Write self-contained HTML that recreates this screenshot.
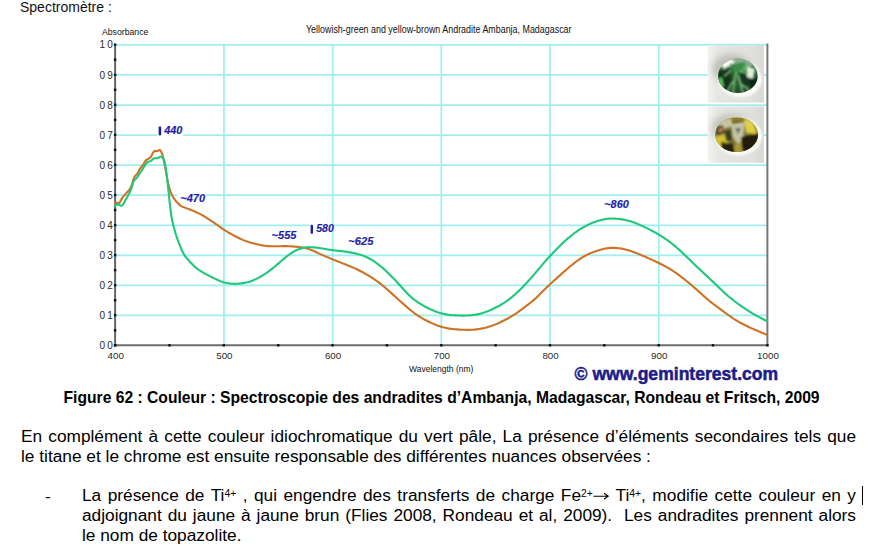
<!DOCTYPE html>
<html><head><meta charset="utf-8">
<style>
html,body{margin:0;padding:0;background:#fff;}
body{width:878px;height:556px;overflow:hidden;position:relative;font-family:"Liberation Sans",sans-serif;color:#000;}
.t{position:absolute;white-space:nowrap;}
#spec{left:20px;top:-0.7px;font-size:14px;color:#111;}
#cap{left:63.5px;top:388.6px;font-size:15.66px;font-weight:bold;}
.p{position:absolute;left:21px;font-size:17.3px;white-space:nowrap;}
svg{position:absolute;left:0;top:0;}
sup{font-size:0.6em;vertical-align:0.38em;line-height:0;}
.arr{position:static;display:inline-block;vertical-align:0.05em;margin-left:0.5px;}
</style></head><body>
<div class="t" id="spec">Spectromètre :</div>
<svg width="878" height="556" viewBox="0 0 878 556">
<defs>
<linearGradient id="bgA" x1="0" y1="0" x2="1" y2="0"><stop offset="0" stop-color="#f4f4f2"/><stop offset="0.18" stop-color="#e6e6e2"/><stop offset="0.8" stop-color="#e0e0dc"/><stop offset="1" stop-color="#d8d8d4"/></linearGradient>
<radialGradient id="gG" cx="0.5" cy="0.55" r="0.55"><stop offset="0" stop-color="#2c6c34"/><stop offset="0.7" stop-color="#1e5028"/><stop offset="0.92" stop-color="#4a8c54"/><stop offset="1" stop-color="#8cb494"/></radialGradient>
<radialGradient id="gY" cx="0.5" cy="0.5" r="0.55"><stop offset="0" stop-color="#8c8650"/><stop offset="0.6" stop-color="#6c6424"/><stop offset="1" stop-color="#b8a430"/></radialGradient>
<filter id="bl" x="-50%" y="-50%" width="200%" height="200%"><feGaussianBlur stdDeviation="3"/></filter>
<clipPath id="cb1"><rect x="707.5" y="45.2" width="56.4" height="57.4"/></clipPath>
<clipPath id="cb2"><rect x="707.5" y="106.4" width="56.4" height="56.4"/></clipPath>
<clipPath id="cg1"><ellipse cx="737.9" cy="75.8" rx="19.8" ry="17.2"/></clipPath>
<clipPath id="cg2"><ellipse cx="736.6" cy="134.6" rx="21.5" ry="17.4"/></clipPath>
<filter id="bl1"><feGaussianBlur stdDeviation="0.8"/></filter>
</defs>
<text x="306" y="32.6" font-size="10.5" font-family="Liberation Sans" fill="#111" textLength="265.5" lengthAdjust="spacingAndGlyphs">Yellowish-green and yellow-brown Andradite Ambanja, Madagascar</text>
<text x="102" y="34.5" font-size="8.8" font-family="Liberation Sans" fill="#111" textLength="46.3" lengthAdjust="spacingAndGlyphs">Absorbance</text>
<g stroke="#a0eeee" stroke-width="1.75" fill="none"><line x1="115.1" y1="44.90" x2="767.4" y2="44.90"/><line x1="115.1" y1="74.96" x2="767.4" y2="74.96"/><line x1="115.1" y1="105.02" x2="767.4" y2="105.02"/><line x1="115.1" y1="135.08" x2="767.4" y2="135.08"/><line x1="115.1" y1="165.14" x2="767.4" y2="165.14"/><line x1="115.1" y1="195.20" x2="767.4" y2="195.20"/><line x1="115.1" y1="225.26" x2="767.4" y2="225.26"/><line x1="115.1" y1="255.32" x2="767.4" y2="255.32"/><line x1="115.1" y1="285.38" x2="767.4" y2="285.38"/><line x1="115.1" y1="315.44" x2="767.4" y2="315.44"/><line x1="223.98" y1="44.7" x2="223.98" y2="345.3"/><line x1="332.67" y1="44.7" x2="332.67" y2="345.3"/><line x1="441.35" y1="44.7" x2="441.35" y2="345.3"/><line x1="550.03" y1="44.7" x2="550.03" y2="345.3"/><line x1="658.72" y1="44.7" x2="658.72" y2="345.3"/></g>
<g fill="#fff">
<rect x="157" y="127" width="26" height="9"/>
<rect x="177" y="193" width="29" height="9"/>
<rect x="309" y="223.5" width="23.5" height="3"/>
</g>

<rect x="707.5" y="45.2" width="56.4" height="57.4" fill="url(#bgA)"/>
<rect x="707.5" y="106.4" width="56.4" height="56.4" fill="url(#bgA)"/>
<g clip-path="url(#cb1)">
<ellipse cx="731" cy="69" rx="19" ry="15" fill="#a4a49c" opacity="0.55" filter="url(#bl)"/>
<ellipse cx="740" cy="79" rx="22" ry="18.5" fill="#fafaf6" filter="url(#bl1)"/>
</g>
<g clip-path="url(#cg1)">
<rect x="716" y="57" width="44" height="38" fill="url(#gG)"/>
<g filter="url(#bl1)">
<ellipse cx="738" cy="62" rx="18" ry="6" fill="#8eae94"/>
<path d="M720 64 L731 58.5 L735 63 L724 69 Z" fill="#f8fbf4"/>
<path d="M729 64 L745 62 L748 71 L735 74 Z" fill="#3a8a46"/>
<path d="M718 71 L729 69 L732 82 L725 93 L717 84 Z" fill="#12301a"/>
<path d="M739 74 L747 72 L751 82 L744 91 Z" fill="#143420"/>
<path d="M747 66 L755 69 L753 79 L747 77 Z" fill="#dff0d8"/>
<path d="M750 79 L758 77 L757 90 L750 89 Z" fill="#0c2212"/>
<path d="M718 79 L722 77 L724 87 L719 87 Z" fill="#58bc58"/>
<path d="M743 66 L748 64 L747 70 L743 71 Z" fill="#5cb45c"/>
</g>
<g stroke="#90cc90" stroke-width="1.4" fill="none" filter="url(#bl1)">
<path d="M736 72 Q734 84 733 93"/>
<path d="M738 75 Q741 85 743 93"/>
<path d="M733 81 Q729 88 726 93"/>
<path d="M740 84 Q745 86 749 90"/>
<path d="M731 70 Q728 74 724 76"/>
<path d="M740 70 Q744 73 747 74"/>
</g>
</g>
<g clip-path="url(#cb2)">
<ellipse cx="731" cy="129" rx="20" ry="15" fill="#a4a49c" opacity="0.5" filter="url(#bl)"/>
<ellipse cx="738.5" cy="136.5" rx="23.5" ry="19" fill="#fafaf6" filter="url(#bl1)"/>
</g>
<g clip-path="url(#cg2)">
<rect x="714" y="116" width="46" height="38" fill="url(#gY)"/>
<g filter="url(#bl1)">
<path d="M718 121 L731 118 L733 126 L721 130 Z" fill="#c8c4a0"/>
<path d="M716 127 L723 125 L724 134 L716 136 Z" fill="#50503c"/>
<path d="M719 129 L722 128 L722 131 L719 132 Z" fill="#d88a58"/>
<path d="M731 124 L745 122 L743 138 L738 145 L733 137 Z" fill="#c4c4a4"/>
<path d="M735 128 L741 128 L738 134 Z" fill="#606868"/>
<path d="M744 118 L753 122 L757 134 L746 133 Z" fill="#e0d048"/>
<path d="M715 137 L724 134 L730 146 L719 151 Z" fill="#d4c030"/>
<path d="M721 142 L733 144 L735 153 L722 153 Z" fill="#24200c"/>
<path d="M741 137 L759 133 L758 150 L743 153 Z" fill="#201e0c"/>
<path d="M734 145 L741 142 L742 153 L735 153 Z" fill="#a89838"/>
<path d="M725 131 L731 130 L732 140 L726 141 Z" fill="#3c3a20"/>
</g>
</g>

<line x1="115.1" y1="43.7" x2="115.1" y2="346.3" stroke="#666" stroke-width="2"/>
<line x1="115.1" y1="345.3" x2="768.4" y2="345.3" stroke="#6c6c6c" stroke-width="2"/>
<line x1="767.4" y1="43.5" x2="767.4" y2="345.3" stroke="#777" stroke-width="2"/>
<g fill="#111"><rect x="113.9" y="344.1" width="2.4" height="2.4"/><rect x="113.9" y="329.1" width="2.4" height="2.4"/><rect x="113.9" y="314.0" width="2.4" height="2.4"/><rect x="113.9" y="299.0" width="2.4" height="2.4"/><rect x="113.9" y="284.0" width="2.4" height="2.4"/><rect x="113.9" y="268.9" width="2.4" height="2.4"/><rect x="113.9" y="253.9" width="2.4" height="2.4"/><rect x="113.9" y="238.9" width="2.4" height="2.4"/><rect x="113.9" y="223.9" width="2.4" height="2.4"/><rect x="113.9" y="208.8" width="2.4" height="2.4"/><rect x="113.9" y="193.8" width="2.4" height="2.4"/><rect x="113.9" y="178.8" width="2.4" height="2.4"/><rect x="113.9" y="163.7" width="2.4" height="2.4"/><rect x="113.9" y="148.7" width="2.4" height="2.4"/><rect x="113.9" y="133.7" width="2.4" height="2.4"/><rect x="113.9" y="118.7" width="2.4" height="2.4"/><rect x="113.9" y="103.6" width="2.4" height="2.4"/><rect x="113.9" y="88.6" width="2.4" height="2.4"/><rect x="113.9" y="73.6" width="2.4" height="2.4"/><rect x="113.9" y="58.5" width="2.4" height="2.4"/><rect x="113.9" y="43.5" width="2.4" height="2.4"/><rect x="113.9" y="344.1" width="2.4" height="2.4"/><rect x="168.3" y="344.1" width="2.4" height="2.4"/><rect x="222.6" y="344.1" width="2.4" height="2.4"/><rect x="277.0" y="344.1" width="2.4" height="2.4"/><rect x="331.3" y="344.1" width="2.4" height="2.4"/><rect x="385.7" y="344.1" width="2.4" height="2.4"/><rect x="440.1" y="344.1" width="2.4" height="2.4"/><rect x="494.4" y="344.1" width="2.4" height="2.4"/><rect x="548.8" y="344.1" width="2.4" height="2.4"/><rect x="603.1" y="344.1" width="2.4" height="2.4"/><rect x="657.5" y="344.1" width="2.4" height="2.4"/><rect x="711.8" y="344.1" width="2.4" height="2.4"/><rect x="766.2" y="344.1" width="2.4" height="2.4"/></g>
<g font-size="10" font-family="Liberation Sans" fill="#2a2a2a"><text x="112.7" y="349.0" text-anchor="end">0<tspan fill="#ececec" dx="-0.3">.</tspan><tspan dx="-0.3">0</tspan></text><text x="112.7" y="318.9" text-anchor="end">0<tspan fill="#ececec" dx="-0.3">.</tspan><tspan dx="-0.3">1</tspan></text><text x="112.7" y="288.9" text-anchor="end">0<tspan fill="#ececec" dx="-0.3">.</tspan><tspan dx="-0.3">2</tspan></text><text x="112.7" y="258.8" text-anchor="end">0<tspan fill="#ececec" dx="-0.3">.</tspan><tspan dx="-0.3">3</tspan></text><text x="112.7" y="228.8" text-anchor="end">0<tspan fill="#ececec" dx="-0.3">.</tspan><tspan dx="-0.3">4</tspan></text><text x="112.7" y="198.7" text-anchor="end">0<tspan fill="#ececec" dx="-0.3">.</tspan><tspan dx="-0.3">5</tspan></text><text x="112.7" y="168.6" text-anchor="end">0<tspan fill="#ececec" dx="-0.3">.</tspan><tspan dx="-0.3">6</tspan></text><text x="112.7" y="138.6" text-anchor="end">0<tspan fill="#ececec" dx="-0.3">.</tspan><tspan dx="-0.3">7</tspan></text><text x="112.7" y="108.5" text-anchor="end">0<tspan fill="#ececec" dx="-0.3">.</tspan><tspan dx="-0.3">8</tspan></text><text x="112.7" y="78.5" text-anchor="end">0<tspan fill="#ececec" dx="-0.3">.</tspan><tspan dx="-0.3">9</tspan></text><text x="112.7" y="48.4" text-anchor="end">1<tspan fill="#ececec" dx="-0.3">.</tspan><tspan dx="-0.3">0</tspan></text></g><g font-size="9.8" font-family="Liberation Sans" fill="#2a2a2a"><text x="115.7" y="359" text-anchor="middle">400</text><text x="224.4" y="359" text-anchor="middle">500</text><text x="333.1" y="359" text-anchor="middle">600</text><text x="441.9" y="359" text-anchor="middle">700</text><text x="550.6" y="359" text-anchor="middle">800</text><text x="659.3" y="359" text-anchor="middle">900</text><text x="768.0" y="359" text-anchor="middle">1000</text></g>
<text x="409" y="372.3" font-size="8.5" font-family="Liberation Sans" fill="#111" textLength="64.4" lengthAdjust="spacingAndGlyphs">Wavelength (nm)</text>
<path d="M114.3 204.1 L115.3 203.2 L116.3 202.9 L117.3 202.9 L118.3 203.1 L119.3 202.9 L120.3 201.6 L121.3 199.6 L122.3 197.9 L123.3 196.6 L124.3 195.3 L125.3 194.2 L126.3 193.1 L127.3 192.1 L128.3 191.1 L129.3 189.9 L130.3 188.3 L131.3 186.2 L132.3 183.5 L133.3 179.6 L134.3 177.1 L135.3 175.7 L136.3 174.8 L137.3 173.8 L138.3 172.0 L139.3 169.8 L140.3 168.2 L141.3 167.0 L142.3 165.8 L143.3 164.4 L144.3 162.7 L145.3 161.0 L146.3 160.0 L147.3 159.4 L148.3 158.9 L149.3 158.2 L150.3 157.5 L151.3 156.2 L152.3 154.1 L153.3 152.2 L154.3 151.2 L155.3 150.8 L156.3 151.1 L157.3 151.2 L158.3 150.6 L159.3 150.0 L160.3 150.3 L161.3 151.9 L162.3 154.3 L163.3 158.0 L164.3 162.7 L165.3 167.9 L166.3 173.6 L167.3 179.3 L168.3 184.0 L169.3 187.7 L170.3 191.0 L171.3 193.7 L172.3 195.8 L173.3 197.4 L174.3 198.9 L175.3 200.3 L176.3 201.6 L177.3 202.6 L178.3 203.6 L179.3 204.6 L180.3 205.5 L181.3 206.1 L182.3 206.6 L183.3 207.0 L184.3 207.4 L185.3 207.8 L186.3 208.2 L187.3 208.5 L188.3 208.9 L189.3 209.3 L190.3 209.7 L191.3 210.1 L192.3 210.5 L193.3 210.9 L194.3 211.3 L195.3 211.7 L196.3 212.2 L197.3 212.6 L198.3 213.1 L199.3 213.6 L200.3 214.1 L201.3 214.6 L202.3 215.2 L203.3 215.7 L204.3 216.3 L205.3 217.0 L206.3 217.6 L207.3 218.3 L208.3 218.9 L209.3 219.6 L210.3 220.2 L211.3 220.9 L212.3 221.6 L213.3 222.2 L214.3 222.9 L215.3 223.6 L216.3 224.3 L217.3 225.0 L218.3 225.7 L219.3 226.5 L220.3 227.2 L221.3 227.9 L222.3 228.6 L223.3 229.3 L224.3 229.9 L225.3 230.6 L226.3 231.2 L227.3 231.8 L228.3 232.4 L229.3 233.0 L230.3 233.5 L231.3 234.1 L232.3 234.6 L233.3 235.2 L234.3 235.7 L235.3 236.3 L236.3 236.8 L237.3 237.3 L238.3 237.8 L239.3 238.3 L240.3 238.8 L241.3 239.2 L242.3 239.6 L243.3 240.1 L244.3 240.5 L245.3 240.8 L246.3 241.2 L247.3 241.5 L248.3 241.9 L249.3 242.2 L250.3 242.5 L251.3 242.8 L252.3 243.0 L253.3 243.3 L254.3 243.6 L255.3 243.8 L256.3 244.1 L257.3 244.3 L258.3 244.6 L259.3 244.8 L260.3 245.0 L261.3 245.2 L262.3 245.4 L263.3 245.6 L264.3 245.7 L265.3 245.8 L266.3 246.0 L267.3 246.1 L268.3 246.1 L269.3 246.2 L270.3 246.3 L271.3 246.3 L272.3 246.3 L273.3 246.3 L274.3 246.3 L275.3 246.3 L276.3 246.3 L277.3 246.3 L278.3 246.3 L279.3 246.2 L280.3 246.2 L281.3 246.2 L282.3 246.1 L283.3 246.1 L284.3 246.1 L285.3 246.1 L286.3 246.1 L287.3 246.1 L288.3 246.2 L289.3 246.2 L290.3 246.3 L291.3 246.4 L292.3 246.4 L293.3 246.5 L294.3 246.6 L295.3 246.7 L296.3 246.8 L297.3 246.9 L298.3 247.0 L299.3 247.1 L300.3 247.2 L301.3 247.3 L302.3 247.5 L303.3 247.6 L304.3 247.8 L305.3 248.1 L306.3 248.3 L307.3 248.6 L308.3 248.9 L309.3 249.3 L310.3 249.6 L311.3 250.0 L312.3 250.4 L313.3 250.8 L314.3 251.3 L315.3 251.7 L316.3 252.2 L317.3 252.7 L318.3 253.1 L319.3 253.6 L320.3 254.1 L321.3 254.5 L322.3 255.0 L323.3 255.4 L324.3 255.9 L325.3 256.3 L326.3 256.7 L327.3 257.1 L328.3 257.5 L329.3 257.9 L330.3 258.4 L331.3 258.8 L332.3 259.2 L333.3 259.6 L334.3 260.0 L335.3 260.4 L336.3 260.8 L337.3 261.2 L338.3 261.6 L339.3 262.0 L340.3 262.4 L341.3 262.8 L342.3 263.2 L343.3 263.6 L344.3 264.0 L345.3 264.4 L346.3 264.8 L347.3 265.2 L348.3 265.6 L349.3 266.0 L350.3 266.4 L351.3 266.8 L352.3 267.2 L353.3 267.6 L354.3 268.1 L355.3 268.5 L356.3 269.0 L357.3 269.5 L358.3 270.0 L359.3 270.5 L360.3 271.0 L361.3 271.5 L362.3 272.0 L363.3 272.6 L364.3 273.2 L365.3 273.7 L366.3 274.3 L367.3 274.9 L368.3 275.5 L369.3 276.1 L370.3 276.7 L371.3 277.3 L372.3 278.0 L373.3 278.6 L374.3 279.3 L375.3 280.0 L376.3 280.7 L377.3 281.4 L378.3 282.1 L379.3 282.9 L380.3 283.6 L381.3 284.4 L382.3 285.2 L383.3 286.1 L384.3 286.9 L385.3 287.8 L386.3 288.6 L387.3 289.5 L388.3 290.4 L389.3 291.3 L390.3 292.2 L391.3 293.1 L392.3 294.0 L393.3 294.9 L394.3 295.8 L395.3 296.7 L396.3 297.6 L397.3 298.5 L398.3 299.5 L399.3 300.3 L400.3 301.2 L401.3 302.1 L402.3 303.0 L403.3 303.9 L404.3 304.8 L405.3 305.6 L406.3 306.5 L407.3 307.4 L408.3 308.2 L409.3 309.1 L410.3 309.9 L411.3 310.7 L412.3 311.5 L413.3 312.3 L414.3 313.1 L415.3 313.8 L416.3 314.5 L417.3 315.2 L418.3 315.9 L419.3 316.5 L420.3 317.1 L421.3 317.7 L422.3 318.3 L423.3 318.9 L424.3 319.5 L425.3 320.0 L426.3 320.5 L427.3 321.0 L428.3 321.5 L429.3 322.0 L430.3 322.5 L431.3 322.9 L432.3 323.4 L433.3 323.8 L434.3 324.2 L435.3 324.6 L436.3 325.0 L437.3 325.4 L438.3 325.7 L439.3 326.1 L440.3 326.4 L441.3 326.7 L442.3 327.0 L443.3 327.3 L444.3 327.5 L445.3 327.8 L446.3 328.0 L447.3 328.2 L448.3 328.4 L449.3 328.6 L450.3 328.7 L451.3 328.8 L452.3 329.0 L453.3 329.1 L454.3 329.2 L455.3 329.3 L456.3 329.4 L457.3 329.4 L458.3 329.5 L459.3 329.6 L460.3 329.6 L461.3 329.7 L462.3 329.7 L463.3 329.8 L464.3 329.8 L465.3 329.8 L466.3 329.9 L467.3 329.9 L468.3 329.9 L469.3 329.9 L470.3 329.9 L471.3 329.8 L472.3 329.8 L473.3 329.7 L474.3 329.6 L475.3 329.5 L476.3 329.4 L477.3 329.3 L478.3 329.1 L479.3 329.0 L480.3 328.8 L481.3 328.6 L482.3 328.4 L483.3 328.2 L484.3 328.0 L485.3 327.7 L486.3 327.5 L487.3 327.2 L488.3 326.9 L489.3 326.6 L490.3 326.3 L491.3 326.0 L492.3 325.6 L493.3 325.3 L494.3 324.9 L495.3 324.5 L496.3 324.1 L497.3 323.7 L498.3 323.2 L499.3 322.8 L500.3 322.3 L501.3 321.8 L502.3 321.3 L503.3 320.8 L504.3 320.3 L505.3 319.8 L506.3 319.2 L507.3 318.7 L508.3 318.2 L509.3 317.6 L510.3 317.0 L511.3 316.4 L512.3 315.8 L513.3 315.2 L514.3 314.6 L515.3 313.9 L516.3 313.3 L517.3 312.6 L518.3 311.9 L519.3 311.1 L520.3 310.4 L521.3 309.7 L522.3 308.9 L523.3 308.2 L524.3 307.4 L525.3 306.6 L526.3 305.9 L527.3 305.1 L528.3 304.4 L529.3 303.6 L530.3 302.8 L531.3 302.0 L532.3 301.2 L533.3 300.4 L534.3 299.5 L535.3 298.6 L536.3 297.7 L537.3 296.7 L538.3 295.7 L539.3 294.8 L540.3 293.8 L541.3 292.8 L542.3 291.8 L543.3 290.8 L544.3 289.8 L545.3 288.8 L546.3 287.8 L547.3 286.9 L548.3 285.9 L549.3 285.0 L550.3 284.0 L551.3 283.1 L552.3 282.2 L553.3 281.3 L554.3 280.4 L555.3 279.5 L556.3 278.6 L557.3 277.7 L558.3 276.8 L559.3 275.9 L560.3 275.0 L561.3 274.1 L562.3 273.2 L563.3 272.3 L564.3 271.4 L565.3 270.6 L566.3 269.7 L567.3 268.8 L568.3 268.0 L569.3 267.1 L570.3 266.3 L571.3 265.5 L572.3 264.7 L573.3 263.9 L574.3 263.1 L575.3 262.3 L576.3 261.5 L577.3 260.8 L578.3 260.1 L579.3 259.4 L580.3 258.7 L581.3 258.0 L582.3 257.4 L583.3 256.8 L584.3 256.2 L585.3 255.7 L586.3 255.1 L587.3 254.6 L588.3 254.2 L589.3 253.7 L590.3 253.3 L591.3 252.9 L592.3 252.5 L593.3 252.1 L594.3 251.7 L595.3 251.4 L596.3 251.0 L597.3 250.7 L598.3 250.4 L599.3 250.1 L600.3 249.8 L601.3 249.5 L602.3 249.2 L603.3 249.0 L604.3 248.7 L605.3 248.5 L606.3 248.4 L607.3 248.2 L608.3 248.1 L609.3 248.0 L610.3 247.9 L611.3 247.9 L612.3 247.9 L613.3 247.9 L614.3 247.9 L615.3 247.9 L616.3 248.0 L617.3 248.1 L618.3 248.2 L619.3 248.3 L620.3 248.4 L621.3 248.6 L622.3 248.8 L623.3 249.0 L624.3 249.2 L625.3 249.4 L626.3 249.7 L627.3 250.0 L628.3 250.3 L629.3 250.6 L630.3 250.9 L631.3 251.2 L632.3 251.6 L633.3 251.9 L634.3 252.3 L635.3 252.7 L636.3 253.0 L637.3 253.4 L638.3 253.9 L639.3 254.3 L640.3 254.7 L641.3 255.1 L642.3 255.5 L643.3 256.0 L644.3 256.4 L645.3 256.8 L646.3 257.3 L647.3 257.7 L648.3 258.1 L649.3 258.6 L650.3 259.0 L651.3 259.5 L652.3 259.9 L653.3 260.4 L654.3 260.8 L655.3 261.3 L656.3 261.7 L657.3 262.2 L658.3 262.7 L659.3 263.2 L660.3 263.7 L661.3 264.2 L662.3 264.7 L663.3 265.2 L664.3 265.8 L665.3 266.3 L666.3 266.9 L667.3 267.4 L668.3 268.0 L669.3 268.6 L670.3 269.2 L671.3 269.8 L672.3 270.5 L673.3 271.1 L674.3 271.8 L675.3 272.5 L676.3 273.2 L677.3 273.9 L678.3 274.6 L679.3 275.4 L680.3 276.1 L681.3 276.9 L682.3 277.6 L683.3 278.4 L684.3 279.2 L685.3 280.0 L686.3 280.8 L687.3 281.6 L688.3 282.4 L689.3 283.3 L690.3 284.1 L691.3 285.0 L692.3 285.8 L693.3 286.7 L694.3 287.6 L695.3 288.4 L696.3 289.3 L697.3 290.2 L698.3 291.1 L699.3 292.0 L700.3 292.9 L701.3 293.8 L702.3 294.7 L703.3 295.6 L704.3 296.5 L705.3 297.4 L706.3 298.3 L707.3 299.1 L708.3 300.0 L709.3 300.8 L710.3 301.6 L711.3 302.4 L712.3 303.2 L713.3 303.9 L714.3 304.7 L715.3 305.4 L716.3 306.2 L717.3 306.9 L718.3 307.7 L719.3 308.4 L720.3 309.1 L721.3 309.9 L722.3 310.6 L723.3 311.3 L724.3 312.1 L725.3 312.8 L726.3 313.5 L727.3 314.3 L728.3 315.0 L729.3 315.7 L730.3 316.4 L731.3 317.1 L732.3 317.8 L733.3 318.5 L734.3 319.2 L735.3 319.8 L736.3 320.4 L737.3 321.0 L738.3 321.6 L739.3 322.2 L740.3 322.7 L741.3 323.2 L742.3 323.8 L743.3 324.3 L744.3 324.8 L745.3 325.3 L746.3 325.8 L747.3 326.3 L748.3 326.7 L749.3 327.2 L750.3 327.7 L751.3 328.1 L752.3 328.6 L753.3 329.0 L754.3 329.5 L755.3 329.9 L756.3 330.3 L757.3 330.8 L758.3 331.2 L759.3 331.6 L760.3 332.0 L761.3 332.5 L762.3 332.9 L763.3 333.3 L764.3 333.7 L765.3 334.1 L766.3 334.5 L767.3 335.0 L767.4 335.0" stroke="#cf7226" stroke-width="2.1" fill="none" stroke-linejoin="round"/>
<path d="M114.3 206.5 L115.3 205.6 L116.3 204.9 L117.3 204.3 L118.3 204.5 L119.3 205.0 L120.3 205.4 L121.3 205.8 L122.3 205.4 L123.3 204.0 L124.3 202.2 L125.3 200.4 L126.3 198.7 L127.3 196.9 L128.3 195.0 L129.3 193.0 L130.3 191.0 L131.3 188.6 L132.3 185.4 L133.3 181.9 L134.3 180.0 L135.3 179.1 L136.3 178.2 L137.3 177.1 L138.3 175.6 L139.3 174.0 L140.3 172.4 L141.3 170.9 L142.3 169.4 L143.3 167.9 L144.3 166.4 L145.3 164.9 L146.3 163.4 L147.3 162.3 L148.3 161.8 L149.3 161.5 L150.3 161.1 L151.3 160.6 L152.3 159.7 L153.3 158.8 L154.3 158.3 L155.3 158.2 L156.3 158.2 L157.3 158.2 L158.3 157.8 L159.3 157.3 L160.3 156.7 L161.3 156.7 L162.3 157.4 L163.3 158.7 L164.3 161.1 L165.3 165.6 L166.3 171.8 L167.3 179.9 L168.3 189.5 L169.3 199.2 L170.3 208.2 L171.3 215.8 L172.3 221.1 L173.3 225.2 L174.3 229.0 L175.3 232.6 L176.3 235.8 L177.3 238.6 L178.3 241.3 L179.3 244.0 L180.3 246.6 L181.3 249.0 L182.3 251.2 L183.3 253.1 L184.3 254.8 L185.3 256.3 L186.3 257.7 L187.3 258.9 L188.3 260.0 L189.3 261.1 L190.3 262.2 L191.3 263.2 L192.3 264.2 L193.3 265.2 L194.3 266.2 L195.3 267.1 L196.3 267.9 L197.3 268.7 L198.3 269.5 L199.3 270.2 L200.3 270.9 L201.3 271.5 L202.3 272.1 L203.3 272.7 L204.3 273.3 L205.3 273.9 L206.3 274.4 L207.3 274.9 L208.3 275.4 L209.3 275.9 L210.3 276.4 L211.3 276.9 L212.3 277.4 L213.3 277.9 L214.3 278.4 L215.3 278.9 L216.3 279.3 L217.3 279.8 L218.3 280.3 L219.3 280.7 L220.3 281.1 L221.3 281.5 L222.3 281.8 L223.3 282.2 L224.3 282.5 L225.3 282.7 L226.3 283.0 L227.3 283.2 L228.3 283.3 L229.3 283.5 L230.3 283.6 L231.3 283.7 L232.3 283.8 L233.3 283.8 L234.3 283.9 L235.3 283.9 L236.3 283.8 L237.3 283.8 L238.3 283.7 L239.3 283.6 L240.3 283.5 L241.3 283.4 L242.3 283.3 L243.3 283.1 L244.3 282.9 L245.3 282.7 L246.3 282.5 L247.3 282.3 L248.3 282.0 L249.3 281.7 L250.3 281.4 L251.3 281.0 L252.3 280.7 L253.3 280.3 L254.3 279.8 L255.3 279.4 L256.3 278.9 L257.3 278.4 L258.3 277.9 L259.3 277.4 L260.3 276.8 L261.3 276.3 L262.3 275.7 L263.3 275.0 L264.3 274.4 L265.3 273.7 L266.3 273.1 L267.3 272.4 L268.3 271.6 L269.3 270.9 L270.3 270.2 L271.3 269.4 L272.3 268.6 L273.3 267.8 L274.3 267.0 L275.3 266.1 L276.3 265.3 L277.3 264.4 L278.3 263.6 L279.3 262.7 L280.3 261.8 L281.3 261.0 L282.3 260.1 L283.3 259.3 L284.3 258.4 L285.3 257.6 L286.3 256.8 L287.3 256.0 L288.3 255.2 L289.3 254.5 L290.3 253.8 L291.3 253.1 L292.3 252.5 L293.3 251.9 L294.3 251.3 L295.3 250.8 L296.3 250.3 L297.3 249.8 L298.3 249.4 L299.3 249.0 L300.3 248.7 L301.3 248.4 L302.3 248.1 L303.3 247.9 L304.3 247.7 L305.3 247.5 L306.3 247.4 L307.3 247.3 L308.3 247.3 L309.3 247.2 L310.3 247.2 L311.3 247.3 L312.3 247.3 L313.3 247.4 L314.3 247.4 L315.3 247.5 L316.3 247.6 L317.3 247.8 L318.3 247.9 L319.3 248.0 L320.3 248.2 L321.3 248.3 L322.3 248.5 L323.3 248.7 L324.3 248.8 L325.3 249.0 L326.3 249.2 L327.3 249.3 L328.3 249.5 L329.3 249.7 L330.3 249.8 L331.3 250.0 L332.3 250.1 L333.3 250.3 L334.3 250.4 L335.3 250.5 L336.3 250.6 L337.3 250.7 L338.3 250.8 L339.3 250.9 L340.3 251.0 L341.3 251.1 L342.3 251.3 L343.3 251.4 L344.3 251.5 L345.3 251.6 L346.3 251.8 L347.3 251.9 L348.3 252.1 L349.3 252.2 L350.3 252.4 L351.3 252.6 L352.3 252.8 L353.3 253.0 L354.3 253.2 L355.3 253.4 L356.3 253.7 L357.3 253.9 L358.3 254.2 L359.3 254.5 L360.3 254.7 L361.3 255.1 L362.3 255.4 L363.3 255.8 L364.3 256.1 L365.3 256.6 L366.3 257.0 L367.3 257.5 L368.3 258.0 L369.3 258.5 L370.3 259.0 L371.3 259.6 L372.3 260.2 L373.3 260.9 L374.3 261.5 L375.3 262.2 L376.3 262.9 L377.3 263.6 L378.3 264.4 L379.3 265.2 L380.3 266.0 L381.3 266.8 L382.3 267.6 L383.3 268.5 L384.3 269.4 L385.3 270.3 L386.3 271.3 L387.3 272.2 L388.3 273.2 L389.3 274.2 L390.3 275.2 L391.3 276.2 L392.3 277.2 L393.3 278.2 L394.3 279.3 L395.3 280.3 L396.3 281.4 L397.3 282.5 L398.3 283.6 L399.3 284.7 L400.3 285.8 L401.3 286.9 L402.3 288.0 L403.3 289.1 L404.3 290.2 L405.3 291.3 L406.3 292.4 L407.3 293.4 L408.3 294.4 L409.3 295.4 L410.3 296.3 L411.3 297.2 L412.3 298.1 L413.3 298.9 L414.3 299.7 L415.3 300.5 L416.3 301.2 L417.3 301.9 L418.3 302.6 L419.3 303.2 L420.3 303.8 L421.3 304.4 L422.3 305.0 L423.3 305.6 L424.3 306.2 L425.3 306.7 L426.3 307.2 L427.3 307.7 L428.3 308.2 L429.3 308.7 L430.3 309.2 L431.3 309.6 L432.3 310.0 L433.3 310.5 L434.3 310.9 L435.3 311.3 L436.3 311.7 L437.3 312.0 L438.3 312.4 L439.3 312.7 L440.3 313.0 L441.3 313.3 L442.3 313.6 L443.3 313.8 L444.3 314.0 L445.3 314.2 L446.3 314.4 L447.3 314.6 L448.3 314.7 L449.3 314.9 L450.3 315.0 L451.3 315.1 L452.3 315.2 L453.3 315.3 L454.3 315.3 L455.3 315.4 L456.3 315.4 L457.3 315.5 L458.3 315.5 L459.3 315.5 L460.3 315.5 L461.3 315.6 L462.3 315.6 L463.3 315.6 L464.3 315.6 L465.3 315.5 L466.3 315.5 L467.3 315.5 L468.3 315.5 L469.3 315.4 L470.3 315.3 L471.3 315.3 L472.3 315.2 L473.3 315.0 L474.3 314.9 L475.3 314.8 L476.3 314.6 L477.3 314.4 L478.3 314.2 L479.3 313.9 L480.3 313.7 L481.3 313.4 L482.3 313.1 L483.3 312.8 L484.3 312.5 L485.3 312.1 L486.3 311.8 L487.3 311.4 L488.3 311.0 L489.3 310.6 L490.3 310.2 L491.3 309.7 L492.3 309.3 L493.3 308.8 L494.3 308.3 L495.3 307.8 L496.3 307.3 L497.3 306.8 L498.3 306.2 L499.3 305.7 L500.3 305.1 L501.3 304.5 L502.3 303.9 L503.3 303.3 L504.3 302.7 L505.3 302.0 L506.3 301.3 L507.3 300.6 L508.3 299.9 L509.3 299.1 L510.3 298.4 L511.3 297.6 L512.3 296.8 L513.3 295.9 L514.3 295.1 L515.3 294.2 L516.3 293.3 L517.3 292.3 L518.3 291.4 L519.3 290.4 L520.3 289.5 L521.3 288.5 L522.3 287.4 L523.3 286.4 L524.3 285.3 L525.3 284.3 L526.3 283.2 L527.3 282.1 L528.3 281.0 L529.3 279.9 L530.3 278.8 L531.3 277.7 L532.3 276.5 L533.3 275.4 L534.3 274.2 L535.3 273.0 L536.3 271.8 L537.3 270.7 L538.3 269.5 L539.3 268.3 L540.3 267.1 L541.3 265.9 L542.3 264.7 L543.3 263.5 L544.3 262.4 L545.3 261.2 L546.3 260.1 L547.3 259.0 L548.3 257.9 L549.3 256.8 L550.3 255.8 L551.3 254.7 L552.3 253.7 L553.3 252.6 L554.3 251.6 L555.3 250.5 L556.3 249.5 L557.3 248.4 L558.3 247.4 L559.3 246.4 L560.3 245.4 L561.3 244.4 L562.3 243.4 L563.3 242.5 L564.3 241.6 L565.3 240.7 L566.3 239.8 L567.3 238.9 L568.3 238.0 L569.3 237.2 L570.3 236.4 L571.3 235.5 L572.3 234.8 L573.3 234.0 L574.3 233.2 L575.3 232.5 L576.3 231.8 L577.3 231.1 L578.3 230.4 L579.3 229.7 L580.3 229.1 L581.3 228.5 L582.3 227.9 L583.3 227.3 L584.3 226.7 L585.3 226.2 L586.3 225.6 L587.3 225.1 L588.3 224.6 L589.3 224.2 L590.3 223.7 L591.3 223.3 L592.3 222.9 L593.3 222.5 L594.3 222.1 L595.3 221.8 L596.3 221.4 L597.3 221.1 L598.3 220.8 L599.3 220.5 L600.3 220.2 L601.3 219.9 L602.3 219.7 L603.3 219.5 L604.3 219.2 L605.3 219.1 L606.3 218.9 L607.3 218.8 L608.3 218.7 L609.3 218.6 L610.3 218.6 L611.3 218.5 L612.3 218.5 L613.3 218.6 L614.3 218.6 L615.3 218.6 L616.3 218.7 L617.3 218.8 L618.3 218.9 L619.3 219.0 L620.3 219.1 L621.3 219.3 L622.3 219.4 L623.3 219.6 L624.3 219.8 L625.3 220.0 L626.3 220.3 L627.3 220.5 L628.3 220.8 L629.3 221.0 L630.3 221.3 L631.3 221.6 L632.3 222.0 L633.3 222.3 L634.3 222.6 L635.3 223.0 L636.3 223.4 L637.3 223.8 L638.3 224.2 L639.3 224.6 L640.3 225.1 L641.3 225.5 L642.3 226.0 L643.3 226.4 L644.3 226.9 L645.3 227.4 L646.3 227.9 L647.3 228.4 L648.3 228.9 L649.3 229.4 L650.3 229.9 L651.3 230.4 L652.3 231.0 L653.3 231.5 L654.3 232.0 L655.3 232.6 L656.3 233.2 L657.3 233.7 L658.3 234.3 L659.3 234.9 L660.3 235.5 L661.3 236.2 L662.3 236.8 L663.3 237.4 L664.3 238.1 L665.3 238.8 L666.3 239.5 L667.3 240.2 L668.3 240.9 L669.3 241.7 L670.3 242.4 L671.3 243.2 L672.3 244.0 L673.3 244.8 L674.3 245.6 L675.3 246.4 L676.3 247.3 L677.3 248.2 L678.3 249.0 L679.3 249.9 L680.3 250.8 L681.3 251.7 L682.3 252.7 L683.3 253.6 L684.3 254.5 L685.3 255.5 L686.3 256.4 L687.3 257.4 L688.3 258.4 L689.3 259.3 L690.3 260.3 L691.3 261.3 L692.3 262.3 L693.3 263.3 L694.3 264.2 L695.3 265.2 L696.3 266.2 L697.3 267.1 L698.3 268.1 L699.3 269.0 L700.3 270.0 L701.3 270.9 L702.3 271.8 L703.3 272.7 L704.3 273.7 L705.3 274.6 L706.3 275.5 L707.3 276.4 L708.3 277.4 L709.3 278.3 L710.3 279.2 L711.3 280.2 L712.3 281.1 L713.3 282.1 L714.3 283.0 L715.3 284.0 L716.3 285.0 L717.3 285.9 L718.3 286.9 L719.3 287.9 L720.3 288.8 L721.3 289.8 L722.3 290.7 L723.3 291.7 L724.3 292.6 L725.3 293.5 L726.3 294.4 L727.3 295.3 L728.3 296.2 L729.3 297.0 L730.3 297.8 L731.3 298.6 L732.3 299.4 L733.3 300.2 L734.3 301.0 L735.3 301.8 L736.3 302.5 L737.3 303.3 L738.3 304.0 L739.3 304.7 L740.3 305.4 L741.3 306.1 L742.3 306.8 L743.3 307.5 L744.3 308.2 L745.3 308.9 L746.3 309.5 L747.3 310.2 L748.3 310.8 L749.3 311.5 L750.3 312.1 L751.3 312.7 L752.3 313.3 L753.3 313.9 L754.3 314.5 L755.3 315.0 L756.3 315.6 L757.3 316.1 L758.3 316.6 L759.3 317.1 L760.3 317.6 L761.3 318.2 L762.3 318.7 L763.3 319.2 L764.3 319.7 L765.3 320.2 L766.3 320.7 L767.3 321.1 L767.4 321.2" stroke="#1ec87a" stroke-width="2.1" fill="none" stroke-linejoin="round"/>
<g font-family="Liberation Sans" font-weight="bold" font-style="italic" fill="#1e1eaa" font-size="10.2" stroke="#1e1eaa" stroke-width="0.15">
<rect x="158.6" y="126.6" width="2.6" height="8.8" stroke="none" rx="0.8"/>
<text x="164.2" y="134" textLength="18.2" lengthAdjust="spacingAndGlyphs">440</text>
<text x="180.3" y="201.7" textLength="24.8" lengthAdjust="spacingAndGlyphs">~470</text>
<text x="271.6" y="239" textLength="24.8" lengthAdjust="spacingAndGlyphs">~555</text>
<rect x="310.6" y="224.8" width="2.4" height="8.9" stroke="none" rx="0.8"/>
<text x="316.2" y="232.4" textLength="17.7" lengthAdjust="spacingAndGlyphs">580</text>
<text x="348.3" y="244.8" textLength="25.2" lengthAdjust="spacingAndGlyphs">~625</text>
<text x="604.2" y="207.8" textLength="24.6" lengthAdjust="spacingAndGlyphs">~860</text>
</g>
<text x="574.6" y="379.9" font-size="18.6" font-weight="bold" font-family="Liberation Sans" fill="#1c1c88" stroke="#1c1c88" stroke-width="0.55" textLength="203.6" lengthAdjust="spacingAndGlyphs">© www.geminterest.com</text>
</svg>
<div class="t" id="cap">Figure 62 : Couleur : Spectroscopie des andradites d’Ambanja, Madagascar, Rondeau et Fritsch, 2009</div>
<div class="p" style="top:425.7px;width:835px;text-align:justify;text-align-last:justify;">En complément à cette couleur idiochromatique du vert pâle, La présence d’éléments secondaires tels que</div>
<div class="p" style="top:446px;">le titane et le chrome est ensuite responsable des différentes nuances observées :</div>
<div class="p" style="top:486px;left:45px;">-</div>
<div class="p" style="top:484.5px;left:82px;width:774px;text-align:justify;text-align-last:justify;">La présence de Ti<sup>4+</sup> , qui engendre des transferts de charge Fe<sup>2+</sup><svg class="arr" width="16" height="8" viewBox="0 0 16 8"><path d="M0.5 4.2 H15 M11 1.2 L15.2 4.2 L11 7.2" stroke="#000" stroke-width="1.1" fill="none"/></svg> Ti<sup>4+</sup>, modifie cette couleur en y</div>
<div class="p" style="top:505px;left:82px;width:774px;text-align:justify;text-align-last:justify;">adjoignant du jaune à jaune brun (Flies 2008, Rondeau et al, 2009).&nbsp; Les andradites prennent alors</div>
<div class="p" style="top:524.5px;left:82px;">le nom de topazolite.</div>
<div style="position:absolute;left:862px;top:486px;width:1px;height:18.5px;background:#000;"></div>
</body></html>
